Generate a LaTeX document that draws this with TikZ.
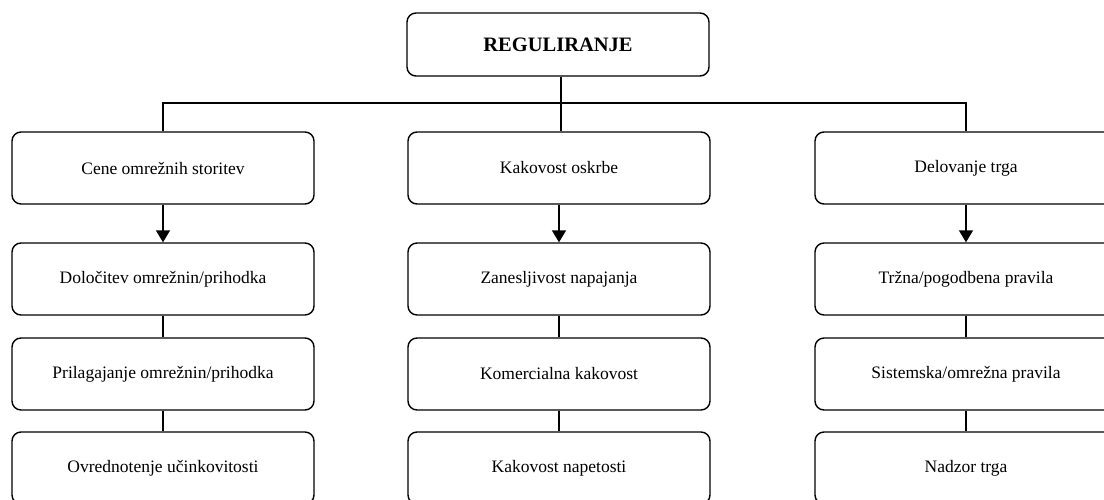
\documentclass[tikz,border=0pt]{standalone}
\usepackage{fontspec}
\setmainfont{Liberation Serif}
\usetikzlibrary{arrows.meta}
\begin{document}
\begin{tikzpicture}[x=1pt,y=-1pt,
  box/.style={draw=black,line width=1.4pt,rounded corners=9pt,minimum width=302pt,minimum height=72pt,inner sep=0pt,align=center,font=\fontsize{17.5}{20}\selectfont},
  topbox/.style={box,minimum height=63pt,font=\fontsize{20.5}{23}\selectfont\bfseries},
  conn/.style={line width=1.4pt},
  arr/.style={conn,-{Triangle[length=12pt,width=14pt]}}]
\useasboundingbox (0,0) rectangle (1104,499);
\clip (0,0) rectangle (1104,499);
\node[topbox] (top) at (558,44.5) {REGULIRANJE};
\node[box] (a1) at (163,168) {Cene omrežnih storitev};
\node[box] (b1) at (559,168) {Kakovost oskrbe};
\node[box] (c1) at (966,168) {Delovanje trga};
\node[box] (a2) at (163,279) {Določitev omrežnin/prihodka};
\node[box] (b2) at (559,279) {Zanesljivost napajanja};
\node[box] (c2) at (966,279) {Tržna/pogodbena pravila};
\node[box] (a3) at (163,374) {Prilagajanje omrežnin/prihodka};
\node[box] (b3) at (559,374) {Komercialna kakovost};
\node[box] (c3) at (966,374) {Sistemska/omrežna pravila};
\node[box] (a4) at (163,468) {Ovrednotenje učinkovitosti};
\node[box] (b4) at (559,468) {Kakovost napetosti};
\node[box] (c4) at (966,468) {Nadzor trga};
\coordinate (bus) at (561,103);
\draw[conn] (top.south -| bus) -- (bus);
\draw[conn] (bus) -- (bus -| a1.north) -- (a1.north);
\draw[conn] (bus) -- (bus -| c1.north) -- (c1.north);
\draw[conn] (bus) -- (bus |- b1.north);
\draw[arr] (a1) -- (a2);
\draw[arr] (b1) -- (b2);
\draw[arr] (c1) -- (c2);
\foreach \c in {a,b,c}{
  \draw[conn] (\c2) -- (\c3);
  \draw[conn] (\c3) -- (\c4);
}
\end{tikzpicture}
\end{document}
